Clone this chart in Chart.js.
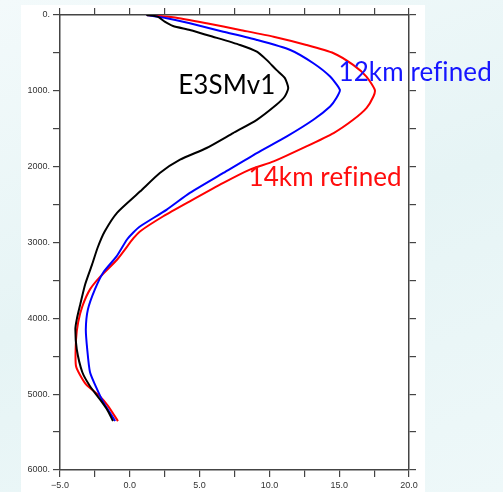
<!DOCTYPE html>
<html lang="en">
<head>
  <meta charset="UTF-8">
  <title>Temperature profile</title>
  <script src="https://cdn.jsdelivr.net/npm/chart.js"></script>
  <style>
    html, body {
      margin: 0;
      padding: 0;
      width: 503px;
      height: 492px;
      overflow: hidden;
      background: linear-gradient(160deg, #f3fafb 0%, #e6f4f5 50%, #eef8f9 100%);
    }
    #paper {
      position: absolute;
      left: 21px;
      top: 5px;
      width: 404px;
      height: 487px;
      background: #fff;
    }
    #wrap {
      position: absolute;
      left: 0;
      top: 0;
      width: 503px;
      height: 492px;
    }
  </style>
</head>
<body>
  <div id="paper"></div>
  <div id="wrap"><canvas id="profile" width="503" height="492"></canvas></div>

  <script>
    // depth (y) and value (x) pairs
    const e3smDepth = [0, 22, 88, 145, 197, 286, 395, 483, 592, 724, 829, 964, 1075, 1184, 1382, 1557, 1754, 1908, 2083, 2325, 2605, 2855, 3066, 3289, 3553, 3816, 4013, 4145, 4408, 4711, 4895, 5066, 5197, 5355];
    const e3smValue = [1.2, 2.0, 2.5, 3.1, 4.3, 5.95, 7.9, 9.1, 9.8, 10.5, 11.1, 11.35, 11.1, 10.5, 9.1, 7.4, 5.5, 3.6, 2.15, 0.75, -0.9, -1.8, -2.3, -2.7, -3.2, -3.55, -3.8, -3.9, -3.8, -3.4, -2.85, -2.15, -1.65, -1.2];

    const km12Depth = [0, 43, 109, 220, 329, 461, 636, 812, 987, 1096, 1207, 1382, 1601, 1820, 2083, 2346, 2566, 2786, 2868, 2961, 3184, 3395, 3618, 3882, 4145, 4408, 4711, 4934, 5105, 5237, 5355];
    const km12Value = [1.2, 2.65, 4.3, 6.7, 9.1, 11.5, 13.15, 14.35, 15.05, 14.8, 14.35, 13.15, 11.25, 9.1, 6.7, 4.3, 2.65, 0.75, 0.25, -0.2, -0.95, -1.9, -2.5, -3.0, -3.15, -3.05, -2.85, -2.35, -1.9, -1.45, -1.05];

    const km14Depth = [0, 30, 109, 197, 286, 395, 504, 658, 812, 987, 1075, 1228, 1382, 1557, 1733, 1930, 2039, 2214, 2457, 2654, 2851, 2947, 3224, 3447, 3618, 3842, 4053, 4276, 4632, 4868, 5026, 5158, 5355];
    const km14Value = [1.2, 3.1, 5.5, 7.9, 10.3, 12.65, 14.6, 16.0, 16.95, 17.55, 17.45, 16.95, 16.0, 14.6, 12.65, 10.3, 8.6, 6.7, 4.3, 2.4, 0.75, 0.25, -0.9, -2.1, -2.85, -3.4, -3.7, -3.85, -3.85, -3.15, -2.15, -1.55, -0.85];

    const xTickValues = [-5, 0, 5, 10, 15, 20];
    const xTickLabels = ['\u22125.0', '0.0', '5.0', '10.0', '15.0', '20.0'];
    const yTickValues = [0, 1000, 2000, 3000, 4000, 5000, 6000];
    const yTickLabels = ['0.', '1000.', '2000.', '3000.', '4000.', '5000.', '6000.'];

    const seriesNames = ['E3SMv1', '12km refined', '14km refined'];
    const seriesColors = ['#000000', '#0000ff', '#ff0000'];

    function pairs(xs, ys) {
      return xs.map((v, i) => ({ x: v, y: ys[i] }));
    }

    // curve labels, placed in data coordinates
    const curveLabels = [
      { text: seriesNames[0], x: 6.95, y: 935, color: '#000000', align: 'center' },
      { text: seriesNames[1], x: 14.95, y: 762, color: '#1515ff', align: 'left' },
      { text: seriesNames[2], x: 8.5, y: 2150, color: '#ff0d0d', align: 'left' }
    ];

    const labelPlugin = {
      id: 'curveLabels',
      afterDraw(chart) {
        const ctx = chart.ctx;
        const xs = chart.scales.x, ys = chart.scales.y;
        ctx.save();
        ctx.font = '26px Lato, "Open Sans", sans-serif';
        ctx.letterSpacing = '0.1px'; // keeps "fi" from turning into a ligature
        ctx.textBaseline = 'middle';
        curveLabels.forEach(l => {
          ctx.fillStyle = l.color;
          ctx.textAlign = l.align;
          ctx.fillText(l.text, xs.getPixelForValue(l.x), ys.getPixelForValue(l.y));
        });
        ctx.restore();
      }
    };

    const axisColor = '#444';
    const tickFont = { family: 'Liberation Sans, Arial, sans-serif', size: 9 };

    function xAxis(position, labels) {
      return {
        type: 'linear',
        position: position,
        min: -5,
        max: 20,
        border: { display: true, color: axisColor, width: 1.5 },
        grid: { drawOnChartArea: false, drawTicks: true, tickLength: 7, color: axisColor, lineWidth: 1.2 },
        ticks: {
          stepSize: 2.5,
          autoSkip: false,
          maxRotation: 0,
          padding: 3,
          color: '#333',
          font: tickFont,
          callback: v => {
            if (!labels) return '';
            const i = xTickValues.indexOf(v);
            return i >= 0 ? xTickLabels[i] : '';
          }
        },
        afterFit: s => { s.height = position === 'top' ? 15 : 22; }
      };
    }

    function yAxis(position, labels) {
      return {
        type: 'linear',
        position: position,
        min: 0,
        max: 6000,
        reverse: true,
        border: { display: true, color: axisColor, width: 1.5 },
        grid: { drawOnChartArea: false, drawTicks: true, tickLength: 7, color: axisColor, lineWidth: 1.2 },
        ticks: {
          stepSize: 500,
          autoSkip: false,
          padding: 3,
          color: '#333',
          font: tickFont,
          callback: v => {
            if (!labels) return '';
            const i = yTickValues.indexOf(v);
            return i >= 0 ? yTickLabels[i] : '';
          }
        },
        afterFit: s => { s.width = position === 'left' ? 60 : 94; }
      };
    }

    new Chart(document.getElementById('profile').getContext('2d'), {
      type: 'scatter',
      data: {
        datasets: [
          { label: seriesNames[0], data: pairs(e3smValue, e3smDepth) },
          { label: seriesNames[1], data: pairs(km12Value, km12Depth) },
          { label: seriesNames[2], data: pairs(km14Value, km14Depth) }
        ].map((d, i) => Object.assign(d, {
          showLine: true,
          borderColor: seriesColors[i],
          backgroundColor: seriesColors[i],
          borderWidth: 2,
          pointRadius: 0,
          tension: 0.2,
          xAxisID: 'x',
          yAxisID: 'y'
        }))
      },
      options: {
        responsive: false,
        animation: false,
        layout: { padding: 0 },
        plugins: {
          legend: { display: false },
          tooltip: { enabled: false }
        },
        scales: {
          x: xAxis('bottom', true),
          x2: xAxis('top', false),
          y: yAxis('left', true),
          y2: yAxis('right', false)
        }
      },
      plugins: [labelPlugin]
    });
  </script>
</body>
</html>
